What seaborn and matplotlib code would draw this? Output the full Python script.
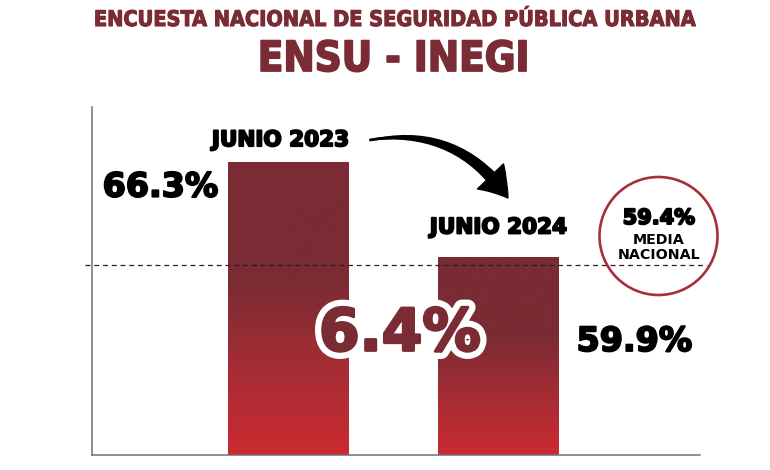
import numpy as np
import matplotlib
matplotlib.use("Agg")
import matplotlib.pyplot as plt
import seaborn as sns
from matplotlib.colors import LinearSegmentedColormap
from matplotlib.patches import Circle, FancyArrowPatch
import matplotlib.patheffects as pe

# ---- data ----
categories = ["JUNIO 2023", "JUNIO 2024"]
values = [66.3, 59.9]
value_labels = ["66.3%", "59.9%"]
national_mean = 59.4
title_top = "ENCUESTA NACIONAL DE SEGURIDAD PÚBLICA URBANA"
title_main = "ENSU - INEGI"
circle_lines = ["59.4%", "MEDIA", "NACIONAL"]

MAROON = "#7A2B33"
RED = "#CB2A31"
GRAY = "#707070"

sns.set_theme(style="white")
plt.rcParams["font.family"] = ["DejaVu Sans"]

W, H, DPI = 770, 470, 100
fig = plt.figure(figsize=(W / DPI, H / DPI), dpi=DPI)
ax = fig.add_axes([92 / W, 1 - 455 / H, (700 - 92) / W, (455 - 107) / H])

sns.barplot(x=categories, y=values, ax=ax, width=0.576, color=MAROON,
            saturation=1, edgecolor="none")

ymin, ymax = 46.64, 70.0
xlim = (-0.936, 1.96)

# gradient fill clipped to each bar
cmap = LinearSegmentedColormap.from_list("bar", [RED, "#A52D35", MAROON])
grad = np.clip(np.linspace(0, 1, 256) / 0.6, 0, 1)[:, None]
for patch, v in zip(ax.patches, values):
    x0, w = patch.get_x(), patch.get_width()
    im = ax.imshow(grad, extent=[x0, x0 + w, ymin, v], origin="lower",
                   aspect="auto", cmap=cmap, vmin=0, vmax=1, zorder=2)
    im.set_clip_path(patch)

ax.set_xlim(*xlim)
ax.set_ylim(ymin, ymax)
ax.set_xticks([])
ax.set_yticks([])
ax.set_xlabel("")
ax.set_ylabel("")
for s in ["top", "right"]:
    ax.spines[s].set_visible(False)
for s in ["left", "bottom"]:
    ax.spines[s].set_color(GRAY)
    ax.spines[s].set_linewidth(1.1)

# national mean dashed line
ax.plot([-0.0115, 1.0115], [national_mean, national_mean],
        transform=ax.get_yaxis_transform(), color="#222222", lw=0.9,
        ls=(0, (4, 3)), clip_on=False, zorder=3)

heavy = [pe.withStroke(linewidth=1.4, foreground="black")]

# category labels above bars
cat_offsets = [(-8, 22), (0, 30)]
for i, (cat, v) in enumerate(zip(categories, values)):
    ax.annotate(cat, xy=(i, v), xytext=cat_offsets[i],
                textcoords="offset pixels", ha="center", va="center",
                fontsize=15.5, fontweight="bold", color="black",
                path_effects=heavy)

# value labels
offsets = [(-128, -25), (136, -84)]
for i, (lab, v) in enumerate(zip(value_labels, values)):
    ax.annotate(lab, xy=(i, v), xytext=offsets[i], textcoords="offset pixels",
                ha="center", va="center", fontsize=24, fontweight="bold",
                color="black", path_effects=heavy)

# difference text
diff = values[0] - values[1]
fig.text(400 / W, 1 - 334 / H, f"{diff:.1f}%", ha="center", va="center",
         fontsize=42, fontweight="bold", color=MAROON, zorder=10,
         path_effects=[pe.withStroke(linewidth=11, foreground="white"),
                       pe.withStroke(linewidth=2, foreground=MAROON)])

# curved arrow: tapered body + head
p_start = (370 / W, 1 - 140 / H)
p_tip = (508 / W, 1 - 198 / H)
body = FancyArrowPatch(p_tip, p_start, transform=fig.transFigure,
                       connectionstyle="arc3,rad=0.32",
                       arrowstyle="wedge,tail_width=0.42,shrink_factor=0.6",
                       mutation_scale=20, shrinkA=12, shrinkB=0,
                       color="black", zorder=10)
head = FancyArrowPatch(p_start, p_tip, transform=fig.transFigure,
                       connectionstyle="arc3,rad=-0.32",
                       arrowstyle="simple,head_length=1.0,head_width=1.3,tail_width=0.05",
                       mutation_scale=20, shrinkA=0, shrinkB=0,
                       color="black", zorder=10)
fig.patches.extend([body, head])

# circle with national mean
circ = Circle((658.5 / DPI, (H - 236) / DPI), 59 / DPI,
              transform=fig.dpi_scale_trans, fill=False, edgecolor="#A5303A",
              lw=1.9, zorder=10)
fig.patches.append(circ)
fig.text(659 / W, 1 - 218 / H, circle_lines[0], ha="center", va="center",
         fontsize=15, fontweight="bold", color="black", path_effects=heavy)
fig.text(659 / W, 1 - 240 / H, circle_lines[1], ha="center", va="center",
         fontsize=10.3, fontweight="bold", color="black")
fig.text(659 / W, 1 - 255 / H, circle_lines[2], ha="center", va="center",
         fontsize=10.3, fontweight="bold", color="black")

# titles
fig.text(394 / W, 1 - 20 / H, title_top, ha="center", va="center",
         fontsize=15.5, fontweight="bold", fontstretch="condensed",
         color=MAROON,
         path_effects=[pe.withStroke(linewidth=0.8, foreground=MAROON)])
fig.text(393 / W, 1 - 59 / H, title_main, ha="center", va="center",
         fontsize=30, fontweight="bold", fontstretch="condensed",
         color=MAROON,
         path_effects=[pe.withStroke(linewidth=1.3, foreground=MAROON)])

fig.savefig("out.png", dpi=DPI)
